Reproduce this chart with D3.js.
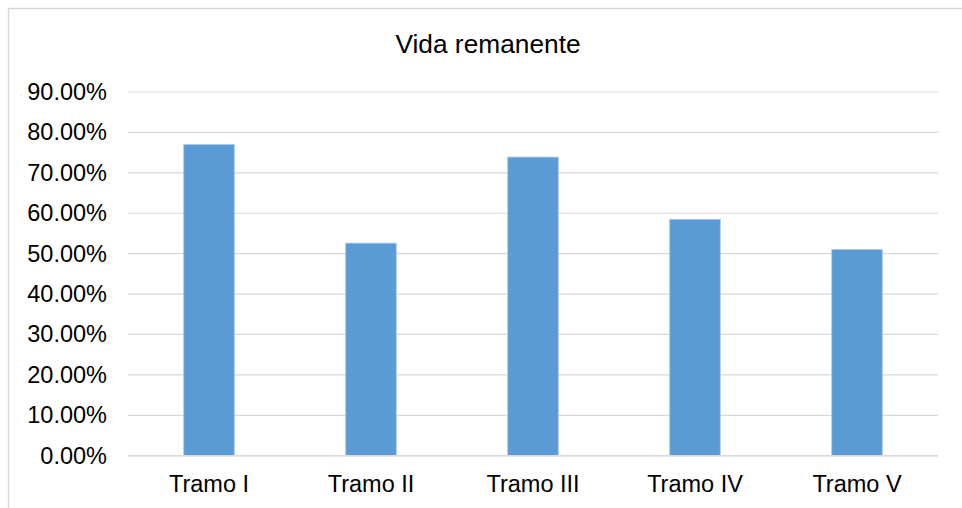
<!DOCTYPE html>
<html>
<head>
<meta charset="utf-8">
<script src="https://cdn.jsdelivr.net/npm/d3@7"></script>
<style>
  html, body { margin: 0; padding: 0; background: #ffffff; }
  svg { display: block; }
  text { font-family: "Liberation Sans", Arial, sans-serif; fill: #000; }
</style>
</head>
<body>
<svg id="chart" width="962" height="508"></svg>
<script>
const categories = ["Tramo I", "Tramo II", "Tramo III", "Tramo IV", "Tramo V"];
const values = [0.770, 0.526, 0.739, 0.585, 0.510];
const tickValues = [0, 0.1, 0.2, 0.3, 0.4, 0.5, 0.6, 0.7, 0.8, 0.9];
const titleText = "Vida remanente";

const svg = d3.select("#chart");
const W = 962, H = 508;

// chart border
svg.append("rect")
  .attr("x", 8.5).attr("y", 8.5)
  .attr("width", W + 10).attr("height", H + 10)
  .attr("fill", "#fff")
  .attr("stroke", "#d9d9d9").attr("stroke-width", 1.5);

const plot = { left: 128, right: 938, top: 92, bottom: 455.7 };

const x = d3.scaleBand()
  .domain(categories)
  .range([plot.left, plot.right])
  .paddingInner(0.688)
  .paddingOuter(0.344);

const y = d3.scaleLinear()
  .domain([0, 0.9])
  .range([plot.bottom, plot.top]);

// gridlines
svg.append("g")
  .selectAll("line")
  .data(tickValues)
  .join("line")
  .attr("x1", plot.left).attr("x2", plot.right)
  .attr("y1", d => y(d)).attr("y2", d => y(d))
  .attr("stroke", "#d9d9d9").attr("stroke-width", 1.2);

// y axis labels
const yAxis = d3.axisLeft(y)
  .tickValues(tickValues)
  .tickFormat(d => (d * 100).toFixed(2) + "%")
  .tickSize(0)
  .tickPadding(21);
const yg = svg.append("g").attr("transform", `translate(${plot.left},0)`).call(yAxis);
yg.select(".domain").remove();
yg.selectAll("text")
  .style("font-size", "23.5px")
  .style("font-family", '"Liberation Sans", Arial, sans-serif')
  .attr("fill", "#000");

// bars
svg.append("g")
  .selectAll("rect")
  .data(values)
  .join("rect")
  .attr("x", (d, i) => x(categories[i]))
  .attr("width", x.bandwidth())
  .attr("y", d => y(d))
  .attr("height", d => y(0) - y(d))
  .attr("fill", "#5b9bd5")
  .attr("stroke", "#a9c9ec")
  .attr("stroke-width", 0.8);

// x axis line
svg.append("line")
  .attr("x1", plot.left).attr("x2", plot.right)
  .attr("y1", y(0)).attr("y2", y(0))
  .attr("stroke", "#d9d9d9").attr("stroke-width", 1.5);

// x labels
const xAxis = d3.axisBottom(x).tickSize(0).tickPadding(20);
const xg = svg.append("g").attr("transform", `translate(0,${y(0)})`).call(xAxis);
xg.select(".domain").remove();
xg.selectAll("text")
  .style("font-size", "23.5px")
  .style("font-family", '"Liberation Sans", Arial, sans-serif')
  .attr("fill", "#000");

// title
svg.append("text")
  .attr("x", 488).attr("y", 53.3)
  .attr("text-anchor", "middle")
  .style("font-size", "26.3px")
  .text(titleText);
</script>
</body>
</html>
